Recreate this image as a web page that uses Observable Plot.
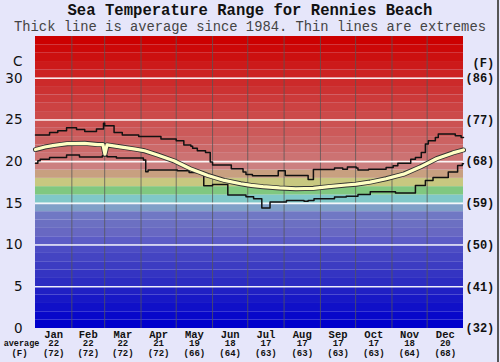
<!DOCTYPE html>
<html><head><meta charset="utf-8">
<script src="https://cdn.jsdelivr.net/npm/d3@7"></script>
<script src="https://cdn.jsdelivr.net/npm/@observablehq/plot@0.6"></script>
<style>
html,body{margin:0;padding:0;background:#e6e6fa;}
#wrap{position:relative;width:500px;height:362px;overflow:hidden;background:#e6e6fa;}
#head{position:absolute;left:0;top:0;}
#chart{position:absolute;left:0;top:36px;}
#edge{position:absolute;left:497px;top:0;width:2px;height:362px;background:#555;}
</style></head>
<body>
<div id="wrap">
<svg id="head" width="500" height="36">
  <text x="250" y="14.8" text-anchor="middle" font-family="Liberation Mono, Courier New, monospace" font-weight="bold" font-size="15.6" fill="#111">Sea Temperature Range for Rennies Beach</text>
  <text x="250" y="31.2" text-anchor="middle" font-family="Liberation Mono, Courier New, monospace" font-size="13.8" fill="#444">Thick line is average since 1984. Thin lines are extremes</text>
</svg>
<div id="chart"></div>
<div id="edge"></div>
</div>
<script>
// ---- data ----
const months = ["Jan","Feb","Mar","Apr","May","Jun","Jul","Aug","Sep","Oct","Nov","Dec"];
const monthStart = [0,31,59,90,120,151,181,212,243,273,304,334,365];
const monthAvgC = [22,22,22,21,19,18,17,17,17,17,18,20];
const monthAvgF = [72,72,72,72,66,64,63,63,63,63,64,68];
const yTicks = [0,5,10,15,20,25,30];
const fLabels = ["(32)","(41)","(50)","(59)","(68)","(77)","(86)"];
const bandColors = ["#0000cc","#0808ca","#1010c8","#1818c6","#2020c4","#2c2cc2","#3434c2","#3c3cc2","#4444c2","#4c4cc4",
  "#5c5cc6","#6868c2","#6c70c2","#7078c4","#80a0c8","#80c8c8","#80c880","#c8c880","#c8a080","#cc8080",
  "#cc7272","#cc6a6a","#cc6262","#cc5a5a","#cc5252","#cc4a4a","#cc4242","#cc3a3a","#cc3232","#cc2a2a",
  "#cc2222","#cc1a1a","#cc1010","#cc0808","#cc0000"];

const avgDay = [0,8,16,27,42,53,57.5,59.2,61,73.5,85,93,104,118,132,147,161,175,184,194,208,222,237,250,265,273.5,285.5,299,314,328,342,356,365];
const avgC   = [21.45,21.75,21.95,22.15,22.2,22.05,22.05,20.9,22.0,21.75,21.5,21.3,20.8,20.1,19.15,18.35,17.75,17.35,17.15,17.0,16.85,16.75,16.8,17.0,17.2,17.3,17.55,17.95,18.5,19.35,20.35,21.05,21.4];

const maxDay = [0,12,19,26.5,35,42,52,58,59,67,74,88,107,120,126.5,132.5,134,138,145,149,151,167,177,179.5,185,207,213,232.5,237,255,262,266,273.5,275,284,299,305,309,320,324,329,332.5,335,341,343.5,358,363,365];
const maxC   = [23.2,23.5,23.7,24.05,23.85,23.6,23.9,24.6,24.3,23.5,23.2,23.0,22.7,22.5,22.0,21.85,21.6,21.3,21.1,19.95,19.6,19.15,18.75,18.45,18.3,18.9,18.35,17.85,19.05,19.25,19.1,19.35,19.25,19.0,19.1,19.3,19.5,19.8,20.3,20.5,21.1,22.1,22.5,22.9,23.3,23.1,22.9,22.9];

const minDay = [0,2,4,12,26.5,37.5,57,61,69,92,94,96,121,131,143.5,151,164,179.5,186,193,200,214,229,232.5,237.5,255,265,275,285.5,307,324,332.5,339,352,360,364,365];
const minC   = [19.8,20.1,20.3,20.5,20.8,20.55,20.7,20.6,20.45,20.2,18.8,19.0,18.9,18.7,17.1,17.25,16.0,15.8,15.55,14.45,15.15,15.35,15.25,15.35,15.55,15.75,15.85,16.05,16.4,16.25,17.15,17.75,18.1,18.75,19.55,19.75,19.75];

// ---- tables ----
const avg = avgDay.map((d,i)=>({d, t: avgC[i]}));
const mx = maxDay.map((d,i)=>({d, t: maxC[i]}));
const mn = minDay.map((d,i)=>({d, t: minC[i]}));
const bands = bandColors.map((c,i)=>({lo:i, hi:i+1, c}));
const mons = months.map((m,i)=>({m, mid:(monthStart[i]+monthStart[i+1])/2, c:monthAvgC[i], f:"("+monthAvgF[i]+")"}));
const bounds = monthStart.slice(1,-1);
const mono = "Liberation Mono, Courier New, monospace";

const chart = Plot.plot({
  width: 500, height: 326,
  marginLeft: 35, marginRight: 37, marginTop: 0, marginBottom: 34,
  style: {background: "transparent", overflow: "visible"},
  x: {domain: [0, 365], axis: null},
  y: {domain: [0, 35], axis: null},
  color: {type: "identity"},
  marks: [
    Plot.rect(bands, {x1: 0, x2: 365, y1: "lo", y2: "hi", fill: "c"}),
    Plot.ruleX(bounds, {stroke: "#555", strokeWidth: 1, strokeOpacity: 0.75}),
    Plot.ruleY(yTicks.slice(1), {stroke: "#fff", strokeWidth: 1.6, strokeOpacity: 0.9}),
    Plot.line(mx, {x: "d", y: "t", curve: "step-after", stroke: "#111", strokeWidth: 1.5}),
    Plot.line(mn, {x: "d", y: "t", curve: "step-after", stroke: "#111", strokeWidth: 1.5}),
    Plot.line(avg, {x: "d", y: "t", stroke: "#333", strokeWidth: 5}),
    Plot.line(avg, {x: "d", y: "t", stroke: "#ffffc4", strokeWidth: 3.2}),
    // left axis
    Plot.text(yTicks, {frameAnchor: "left", y: d=>d, text: d=>String(d), textAnchor: "end", dx: -13, fontSize: 13.5, fontFamily: "DejaVu Sans", fill: "#111"}),
    Plot.text(["C"], {frameAnchor: "left", y: 32, text: d=>d, textAnchor: "end", dx: -13, fontSize: 13.5, fontFamily: "DejaVu Sans", fill: "#111"}),
    // right axis
    Plot.text(fLabels, {frameAnchor: "right", y: (d,i)=>yTicks[i], text: d=>d, textAnchor: "start", dx: 2, fontSize: 12, fontWeight: "bold", fontFamily: mono, fill: "#111"}),
    Plot.text(["(F)"], {frameAnchor: "right", y: 31.8, text: d=>d, textAnchor: "start", dx: 9, fontSize: 12, fontWeight: "bold", fontFamily: mono, fill: "#111"}),
    // bottom labels
    Plot.text(mons, {x: "mid", y: 0, text: "m", lineAnchor: "bottom", dy: 9, fontSize: 10.5, fontWeight: "bold", fontFamily: mono, fill: "#111"}),
    Plot.text(mons, {x: "mid", y: 0, text: d=>String(d.c), lineAnchor: "bottom", dy: 17.5, fontSize: 9, fontWeight: "bold", fontFamily: mono, fill: "#111"}),
    Plot.text(mons, {x: "mid", y: 0, text: "f", lineAnchor: "bottom", dy: 27, fontSize: 9, fontWeight: "bold", fontFamily: mono, fill: "#111"}),
    Plot.text(["average"], {frameAnchor: "bottom-left", text: d=>d, textAnchor: "middle", lineAnchor: "bottom", dx: -14, dy: 17.5, fontSize: 8.5, fontWeight: "bold", fontFamily: mono, fill: "#111"}),
    Plot.text(["(F)"], {frameAnchor: "bottom-left", text: d=>d, textAnchor: "middle", lineAnchor: "bottom", dx: -16, dy: 27, fontSize: 9, fontWeight: "bold", fontFamily: mono, fill: "#111"})
  ]
});
document.getElementById("chart").appendChild(chart);
</script>
</body></html>
